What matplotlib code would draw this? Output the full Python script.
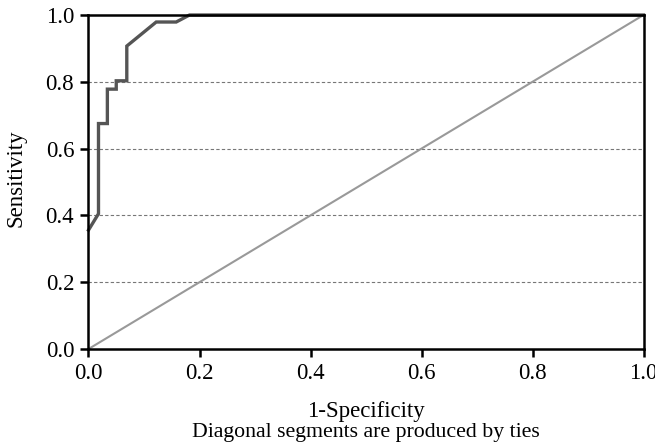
import matplotlib
matplotlib.use("Agg")
import matplotlib.pyplot as plt

fpr = [0.0, 0.018, 0.018, 0.034, 0.034, 0.050, 0.050, 0.069, 0.069, 0.122, 0.158, 0.182, 1.0]
tpr = [0.356, 0.405, 0.675, 0.675, 0.778, 0.778, 0.803, 0.803, 0.907, 0.979, 0.979, 1.0, 1.0]
ref = [0.0, 1.0]
ticks = [0.0, 0.2, 0.4, 0.6, 0.8, 1.0]
tick_labels = ["0.0", "0.2", "0.4", "0.6", "0.8", "1.0"]

plt.rcParams['font.family'] = ['Liberation Serif', 'DejaVu Serif']

fig = plt.figure(figsize=(6.55, 4.47), dpi=100)
L, R, B, T = 88.5 / 655, 643.5 / 655, 1 - 349 / 447, 1 - 15 / 447
ax = fig.add_axes([L, B, R - L, T - B])

for yv in [0.2, 0.4, 0.6, 0.8]:
    ax.axhline(yv, color='#777777', lw=0.8, ls=(0, (3, 2)), zorder=1)

ax.plot(ref, ref, color='#999999', lw=1.5, zorder=2)
ax.plot(fpr, tpr, color='#555555', lw=2.4, zorder=3, clip_on=False, solid_joinstyle='miter')

ax.set_xlim(0, 1)
ax.set_ylim(0, 1)
ax.set_xticks(ticks)
ax.set_xticklabels(tick_labels)
ax.set_yticks(ticks)
ax.set_yticklabels(tick_labels)
ax.tick_params(direction='out', length=5.8, width=1.8, labelsize=16.5, pad=4.5)
for s in ax.spines.values():
    s.set_linewidth(1.8)
    s.set_zorder(5)

fig.text(16 / 655, 1 - 178 / 447, "Sensitivity", rotation=90, ha='center', va='center', fontsize=16.5)
cx = 0.5 * (L + R)
fig.text(cx, 1 - 412 / 447, "1-Specificity", ha='center', va='center', fontsize=16.5)
fig.text(cx, 1 - 433 / 447, "Diagonal segments are produced by ties", ha='center', va='center', fontsize=15.7)

fig.savefig("out.png", dpi=100)
